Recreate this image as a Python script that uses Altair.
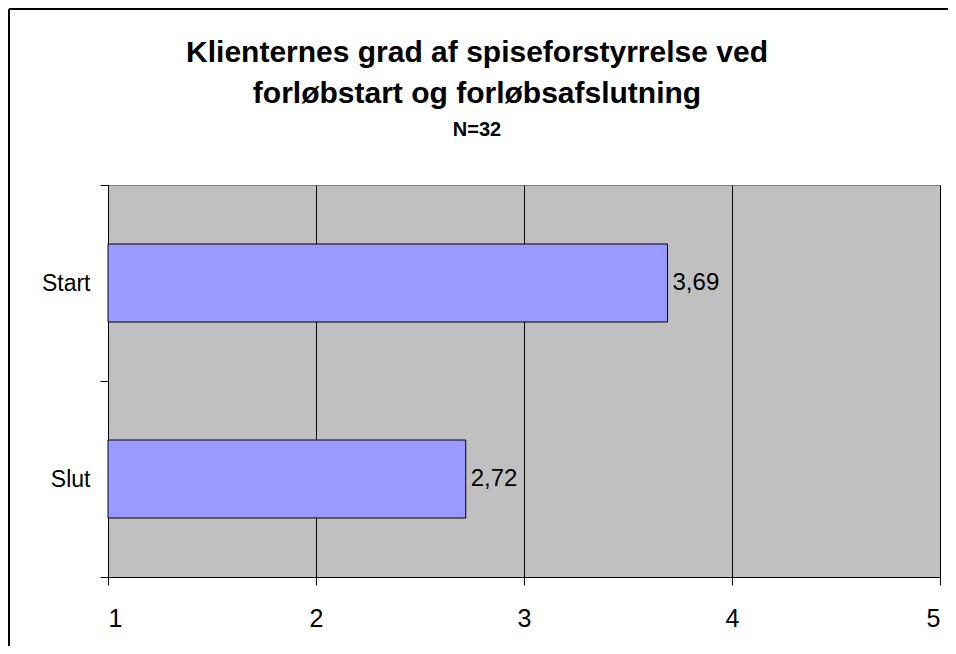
import altair as alt
import pandas as pd

categories = ["Start", "Slut"]
values = [3.69, 2.72]
value_labels = ["3,69", "2,72"]
x_ticks = [1, 2, 3, 4, 5]
title_lines = ["Klienternes grad af spiseforstyrrelse ved", "forløbstart og forløbsafslutning"]
subtitle = "N=32"

FONT = "Liberation Sans"
NARROW = "Liberation Sans Narrow, Liberation Sans"
W, H = 832, 392

df = pd.DataFrame({"cat": categories, "val": values, "lab": value_labels, "base": [1] * len(values)})
one = pd.DataFrame({"t1": [title_lines[0]], "t2": [title_lines[1]], "t3": [subtitle]})

y_enc = alt.Y(
    "cat:N", sort=categories,
    scale=alt.Scale(paddingInner=0, paddingOuter=0),
    axis=alt.Axis(title=None, tickBand="extent", labelFontSize=23, labelColor="black",
                  labelPadding=10, tickSize=8, tickColor="black", domainColor="black",
                  labelFont=NARROW, grid=False),
)
x_enc = alt.X(
    "val:Q", scale=alt.Scale(domain=[1, 5], nice=False, zero=False),
    axis=alt.Axis(values=x_ticks, title=None, grid=True, gridColor="black", gridOpacity=1,
                  tickColor="black", tickSize=8, domainColor="black", labelFontSize=25,
                  labelPadding=21, labelFont=NARROW, labelColor="black", format="d"),
)

top_line = alt.Chart(one).mark_rule(color="black", strokeWidth=2).encode(
    x=alt.value(-99), x2=alt.value(860), y=alt.value(-176)
)
left_line = alt.Chart(one).mark_rule(color="black", strokeWidth=2).encode(
    x=alt.value(-99), y=alt.value(-176), y2=alt.value(470)
)
# white strip over the right edge of the drawing, where no frame line belongs
right_mask = alt.Chart(one).mark_rule(color="white", strokeWidth=5).encode(
    x=alt.value(839), y=alt.value(-174), y2=alt.value(470)
)

bars = alt.Chart(df).mark_bar(fill="#9999FF", stroke="black", strokeWidth=1, size=78).encode(
    y=y_enc, x=x_enc, x2="base"
)

labels = alt.Chart(df).mark_text(align="left", baseline="middle", dx=5, fontSize=24,
                                 font=FONT, color="black").encode(
    y=alt.Y("cat:N", sort=categories), x="val:Q", text="lab:N"
)

t1 = alt.Chart(one).mark_text(align="center", baseline="alphabetic", fontSize=30,
                              fontWeight="bold", font=FONT, color="black").encode(
    x=alt.value(369), y=alt.value(-123), text="t1:N")
t2 = alt.Chart(one).mark_text(align="center", baseline="alphabetic", fontSize=30,
                              fontWeight="bold", font=FONT, color="black").encode(
    x=alt.value(369), y=alt.value(-82), text="t2:N")
t3 = alt.Chart(one).mark_text(align="center", baseline="alphabetic", fontSize=20,
                              fontWeight="bold", font=FONT, color="black").encode(
    x=alt.value(369), y=alt.value(-49), text="t3:N")

chart = alt.layer(top_line, left_line, bars, labels, t1, t2, t3, right_mask).properties(
    width=W, height=H,
    autosize=alt.AutoSizeParams(type="none"),
    padding={"left": 100, "top": 177, "right": 8, "bottom": 69},
    background="white",
).configure_view(fill="#C0C0C0", stroke="#808080", strokeWidth=1)

chart.save("out.html", embed_options={"renderer": "svg", "actions": False})
